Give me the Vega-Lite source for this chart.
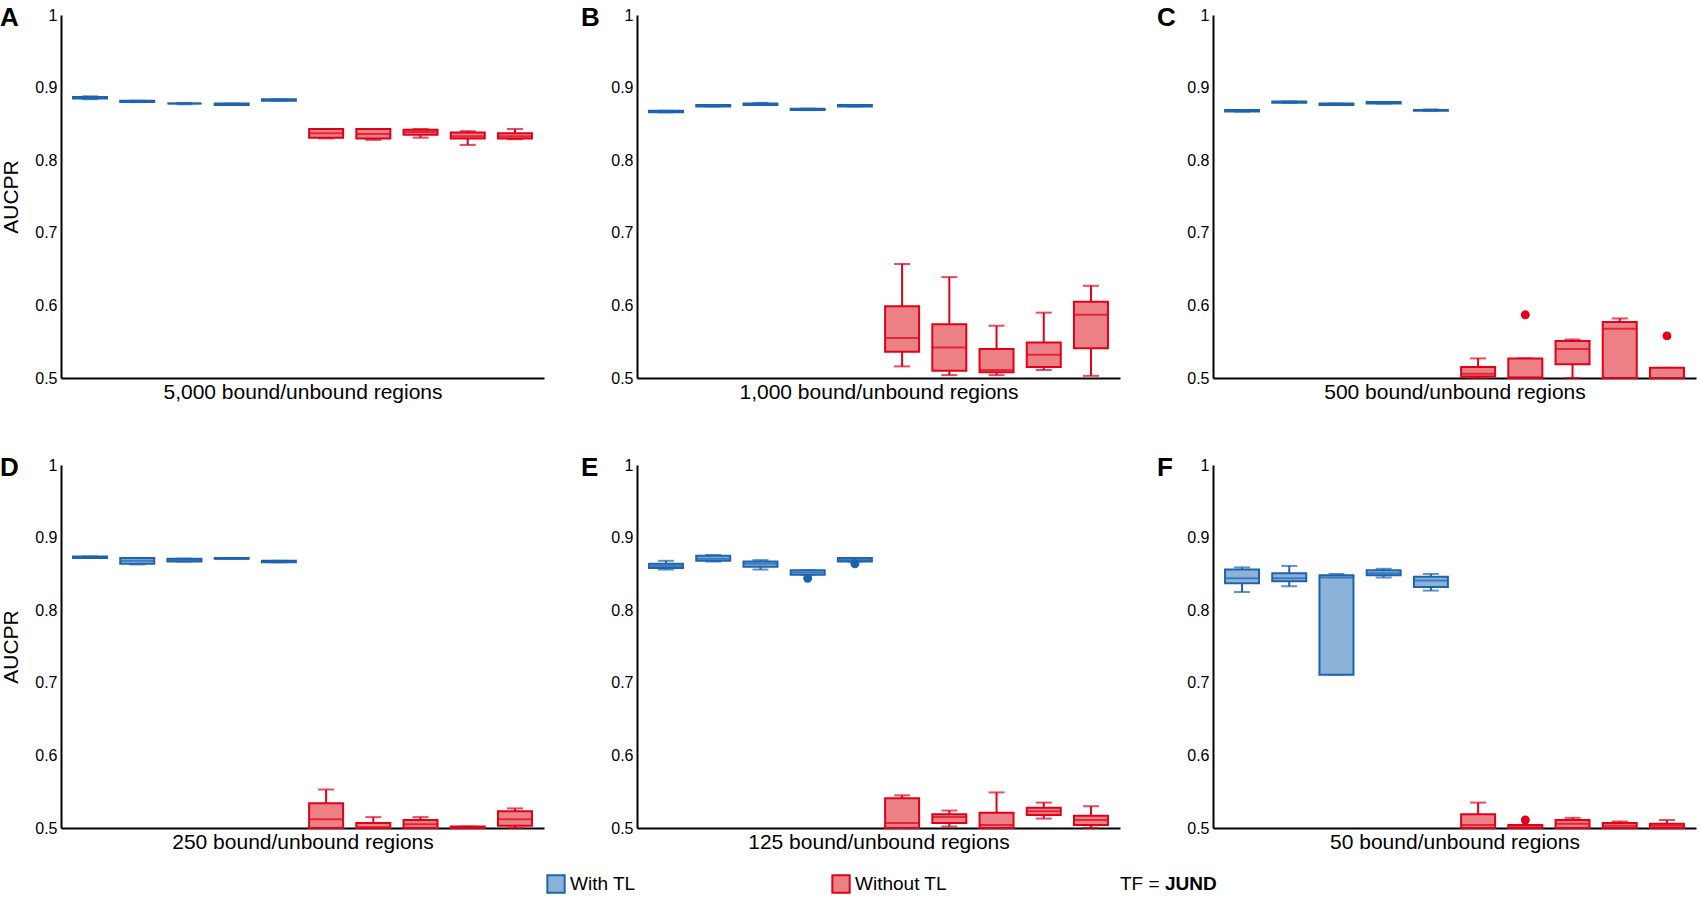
{
  "$schema": "https://vega.github.io/schema/vega-lite/v6.json",
  "background": "white",
  "padding": {"left": 0, "top": 5, "right": 0, "bottom": 0},
  "datasets": {
    "boxes": [
      {"panel": "A", "box": 1, "group": "With TL", "lower": 0.884, "q1": 0.885, "median": 0.886, "q3": 0.887, "upper": 0.888},
      {"panel": "A", "box": 2, "group": "With TL", "lower": 0.880, "q1": 0.880, "median": 0.881, "q3": 0.882, "upper": 0.882},
      {"panel": "A", "box": 3, "group": "With TL", "lower": 0.877, "q1": 0.878, "median": 0.878, "q3": 0.878, "upper": 0.879},
      {"panel": "A", "box": 4, "group": "With TL", "lower": 0.876, "q1": 0.876, "median": 0.877, "q3": 0.878, "upper": 0.878},
      {"panel": "A", "box": 5, "group": "With TL", "lower": 0.882, "q1": 0.882, "median": 0.883, "q3": 0.884, "upper": 0.884},
      {"panel": "A", "box": 6, "group": "Without TL", "lower": 0.830, "q1": 0.831, "median": 0.837, "q3": 0.843, "upper": 0.843},
      {"panel": "A", "box": 7, "group": "Without TL", "lower": 0.828, "q1": 0.830, "median": 0.836, "q3": 0.843, "upper": 0.843},
      {"panel": "A", "box": 8, "group": "Without TL", "lower": 0.831, "q1": 0.835, "median": 0.839, "q3": 0.842, "upper": 0.843},
      {"panel": "A", "box": 9, "group": "Without TL", "lower": 0.821, "q1": 0.830, "median": 0.833, "q3": 0.838, "upper": 0.840},
      {"panel": "A", "box": 10, "group": "Without TL", "lower": 0.829, "q1": 0.830, "median": 0.833, "q3": 0.837, "upper": 0.843},
      {"panel": "B", "box": 1, "group": "With TL", "lower": 0.866, "q1": 0.866, "median": 0.867, "q3": 0.868, "upper": 0.868},
      {"panel": "B", "box": 2, "group": "With TL", "lower": 0.874, "q1": 0.874, "median": 0.875, "q3": 0.876, "upper": 0.876},
      {"panel": "B", "box": 3, "group": "With TL", "lower": 0.876, "q1": 0.876, "median": 0.877, "q3": 0.878, "upper": 0.879},
      {"panel": "B", "box": 4, "group": "With TL", "lower": 0.869, "q1": 0.869, "median": 0.870, "q3": 0.871, "upper": 0.871},
      {"panel": "B", "box": 5, "group": "With TL", "lower": 0.874, "q1": 0.874, "median": 0.875, "q3": 0.876, "upper": 0.876},
      {"panel": "B", "box": 6, "group": "Without TL", "lower": 0.516, "q1": 0.536, "median": 0.555, "q3": 0.599, "upper": 0.657},
      {"panel": "B", "box": 7, "group": "Without TL", "lower": 0.504, "q1": 0.510, "median": 0.542, "q3": 0.574, "upper": 0.639},
      {"panel": "B", "box": 8, "group": "Without TL", "lower": 0.504, "q1": 0.508, "median": 0.511, "q3": 0.540, "upper": 0.572},
      {"panel": "B", "box": 9, "group": "Without TL", "lower": 0.511, "q1": 0.515, "median": 0.532, "q3": 0.549, "upper": 0.590},
      {"panel": "B", "box": 10, "group": "Without TL", "lower": 0.503, "q1": 0.541, "median": 0.587, "q3": 0.605, "upper": 0.627},
      {"panel": "C", "box": 1, "group": "With TL", "lower": 0.867, "q1": 0.867, "median": 0.868, "q3": 0.869, "upper": 0.869},
      {"panel": "C", "box": 2, "group": "With TL", "lower": 0.879, "q1": 0.879, "median": 0.880, "q3": 0.881, "upper": 0.881},
      {"panel": "C", "box": 3, "group": "With TL", "lower": 0.876, "q1": 0.876, "median": 0.877, "q3": 0.878, "upper": 0.878},
      {"panel": "C", "box": 4, "group": "With TL", "lower": 0.878, "q1": 0.878, "median": 0.879, "q3": 0.880, "upper": 0.880},
      {"panel": "C", "box": 5, "group": "With TL", "lower": 0.868, "q1": 0.868, "median": 0.869, "q3": 0.869, "upper": 0.870},
      {"panel": "C", "box": 6, "group": "Without TL", "lower": 0.500, "q1": 0.502, "median": 0.506, "q3": 0.515, "upper": 0.527},
      {"panel": "C", "box": 7, "group": "Without TL", "lower": 0.500, "q1": 0.500, "median": 0.501, "q3": 0.527, "upper": 0.527},
      {"panel": "C", "box": 8, "group": "Without TL", "lower": 0.500, "q1": 0.519, "median": 0.540, "q3": 0.551, "upper": 0.553},
      {"panel": "C", "box": 9, "group": "Without TL", "lower": 0.500, "q1": 0.500, "median": 0.568, "q3": 0.577, "upper": 0.582},
      {"panel": "C", "box": 10, "group": "Without TL", "lower": 0.500, "q1": 0.500, "median": 0.500, "q3": 0.514, "upper": 0.514},
      {"panel": "D", "box": 1, "group": "With TL", "lower": 0.872, "q1": 0.872, "median": 0.873, "q3": 0.874, "upper": 0.874},
      {"panel": "D", "box": 2, "group": "With TL", "lower": 0.863, "q1": 0.864, "median": 0.868, "q3": 0.872, "upper": 0.872},
      {"panel": "D", "box": 3, "group": "With TL", "lower": 0.867, "q1": 0.867, "median": 0.869, "q3": 0.871, "upper": 0.871},
      {"panel": "D", "box": 4, "group": "With TL", "lower": 0.871, "q1": 0.871, "median": 0.871, "q3": 0.872, "upper": 0.872},
      {"panel": "D", "box": 5, "group": "With TL", "lower": 0.866, "q1": 0.866, "median": 0.867, "q3": 0.868, "upper": 0.868},
      {"panel": "D", "box": 6, "group": "Without TL", "lower": 0.500, "q1": 0.500, "median": 0.512, "q3": 0.534, "upper": 0.553},
      {"panel": "D", "box": 7, "group": "Without TL", "lower": 0.500, "q1": 0.500, "median": 0.501, "q3": 0.507, "upper": 0.515},
      {"panel": "D", "box": 8, "group": "Without TL", "lower": 0.500, "q1": 0.500, "median": 0.505, "q3": 0.511, "upper": 0.515},
      {"panel": "D", "box": 9, "group": "Without TL", "lower": 0.500, "q1": 0.500, "median": 0.501, "q3": 0.502, "upper": 0.502},
      {"panel": "D", "box": 10, "group": "Without TL", "lower": 0.500, "q1": 0.503, "median": 0.512, "q3": 0.523, "upper": 0.527},
      {"panel": "E", "box": 1, "group": "With TL", "lower": 0.856, "q1": 0.858, "median": 0.861, "q3": 0.864, "upper": 0.868},
      {"panel": "E", "box": 2, "group": "With TL", "lower": 0.867, "q1": 0.868, "median": 0.871, "q3": 0.875, "upper": 0.876},
      {"panel": "E", "box": 3, "group": "With TL", "lower": 0.856, "q1": 0.860, "median": 0.864, "q3": 0.867, "upper": 0.869},
      {"panel": "E", "box": 4, "group": "With TL", "lower": 0.849, "q1": 0.849, "median": 0.852, "q3": 0.855, "upper": 0.855},
      {"panel": "E", "box": 5, "group": "With TL", "lower": 0.867, "q1": 0.867, "median": 0.869, "q3": 0.872, "upper": 0.872},
      {"panel": "E", "box": 6, "group": "Without TL", "lower": 0.500, "q1": 0.500, "median": 0.507, "q3": 0.541, "upper": 0.545},
      {"panel": "E", "box": 7, "group": "Without TL", "lower": 0.502, "q1": 0.507, "median": 0.515, "q3": 0.519, "upper": 0.524},
      {"panel": "E", "box": 8, "group": "Without TL", "lower": 0.500, "q1": 0.500, "median": 0.504, "q3": 0.521, "upper": 0.549},
      {"panel": "E", "box": 9, "group": "Without TL", "lower": 0.513, "q1": 0.518, "median": 0.523, "q3": 0.528, "upper": 0.535},
      {"panel": "E", "box": 10, "group": "Without TL", "lower": 0.500, "q1": 0.504, "median": 0.511, "q3": 0.517, "upper": 0.530},
      {"panel": "F", "box": 1, "group": "With TL", "lower": 0.825, "q1": 0.837, "median": 0.844, "q3": 0.856, "upper": 0.859},
      {"panel": "F", "box": 2, "group": "With TL", "lower": 0.833, "q1": 0.840, "median": 0.844, "q3": 0.851, "upper": 0.861},
      {"panel": "F", "box": 3, "group": "With TL", "lower": 0.711, "q1": 0.711, "median": 0.845, "q3": 0.848, "upper": 0.850},
      {"panel": "F", "box": 4, "group": "With TL", "lower": 0.845, "q1": 0.848, "median": 0.851, "q3": 0.855, "upper": 0.857},
      {"panel": "F", "box": 5, "group": "With TL", "lower": 0.827, "q1": 0.832, "median": 0.841, "q3": 0.846, "upper": 0.850},
      {"panel": "F", "box": 6, "group": "Without TL", "lower": 0.500, "q1": 0.500, "median": 0.504, "q3": 0.519, "upper": 0.535},
      {"panel": "F", "box": 7, "group": "Without TL", "lower": 0.500, "q1": 0.500, "median": 0.501, "q3": 0.504, "upper": 0.504},
      {"panel": "F", "box": 8, "group": "Without TL", "lower": 0.500, "q1": 0.500, "median": 0.506, "q3": 0.511, "upper": 0.514},
      {"panel": "F", "box": 9, "group": "Without TL", "lower": 0.500, "q1": 0.500, "median": 0.503, "q3": 0.507, "upper": 0.509},
      {"panel": "F", "box": 10, "group": "Without TL", "lower": 0.500, "q1": 0.500, "median": 0.503, "q3": 0.506, "upper": 0.511}
    ],
    "outliers": [
      {"panel": "C", "box": 7, "group": "Without TL", "value": 0.587},
      {"panel": "C", "box": 10, "group": "Without TL", "value": 0.558},
      {"panel": "E", "box": 4, "group": "With TL", "value": 0.844},
      {"panel": "E", "box": 5, "group": "With TL", "value": 0.864},
      {"panel": "F", "box": 7, "group": "Without TL", "value": 0.511}
    ],
    "legend": [
      {"key": "With TL", "group": "With TL"},
      {"key": "Without TL", "group": "Without TL"}
    ]
  },
  "vconcat": [
    {
      "spacing": 53,
      "vconcat": [
        {
          "spacing": 37,
          "hconcat": [
            {
              "width": 483, "height": 363,
              "title": {"text": "A", "dx": -61},
              "encoding": {
                "x": {"field": "box", "type": "ordinal", "scale": {"domain": [1,2,3,4,5,6,7,8,9,10], "paddingInner": 0.28, "paddingOuter": 0.255}, "axis": {"title": "5,000 bound/unbound regions"}},
                "color": {"field": "group", "type": "nominal", "scale": {"domain": ["With TL", "Without TL"], "range": ["#1c64b0", "#e1001a"]}, "legend": null}
              },
              "layer": [
                {
                  "data": {"name": "boxes"},
                  "transform": [{"filter": "datum.panel === 'A'"}],
                  "layer": [
                    {"mark": {"type": "rule", "strokeWidth": 2}, "encoding": {"y": {"field": "lower", "type": "quantitative", "scale": {"domain": [0.5, 1], "nice": false, "zero": false}, "axis": {"title": "AUCPR", "values": [0.5, 0.6, 0.7, 0.8, 0.9, 1], "format": "~g"}}, "y2": {"field": "upper"}}},
                    {"mark": {"type": "tick", "size": 16, "thickness": 2}, "encoding": {"y": {"field": "lower", "type": "quantitative", "scale": {"domain": [0.5, 1], "nice": false, "zero": false}, "axis": {"title": "AUCPR", "values": [0.5, 0.6, 0.7, 0.8, 0.9, 1], "format": "~g"}}}},
                    {"mark": {"type": "tick", "size": 16, "thickness": 2}, "encoding": {"y": {"field": "upper", "type": "quantitative", "scale": {"domain": [0.5, 1], "nice": false, "zero": false}, "axis": {"title": "AUCPR", "values": [0.5, 0.6, 0.7, 0.8, 0.9, 1], "format": "~g"}}}},
                    {"mark": {"type": "bar", "width": {"band": 1}, "strokeWidth": 2}, "encoding": {"y": {"field": "q1", "type": "quantitative", "scale": {"domain": [0.5, 1], "nice": false, "zero": false}, "axis": {"title": "AUCPR", "values": [0.5, 0.6, 0.7, 0.8, 0.9, 1], "format": "~g"}}, "y2": {"field": "q3"}, "fill": {"field": "group", "type": "nominal", "scale": {"domain": ["With TL", "Without TL"], "range": ["#8db2d8", "#ec8185"]}, "legend": null}, "stroke": {"field": "group", "type": "nominal", "scale": {"domain": ["With TL", "Without TL"], "range": ["#1c64b0", "#e1001a"]}, "legend": null}}},
                    {"mark": {"type": "tick", "size": 34, "thickness": 2}, "encoding": {"y": {"field": "median", "type": "quantitative", "scale": {"domain": [0.5, 1], "nice": false, "zero": false}, "axis": {"title": "AUCPR", "values": [0.5, 0.6, 0.7, 0.8, 0.9, 1], "format": "~g"}}}}
                  ]
                },
                {"data": {"name": "outliers"}, "transform": [{"filter": "datum.panel === 'A'"}], "mark": {"type": "circle", "size": 80, "opacity": 1}, "encoding": {"y": {"field": "value", "type": "quantitative", "scale": {"domain": [0.5, 1], "nice": false, "zero": false}, "axis": {"title": "AUCPR", "values": [0.5, 0.6, 0.7, 0.8, 0.9, 1], "format": "~g"}}}}
              ]
            },
            {
              "width": 483, "height": 363,
              "title": {"text": "B", "dx": -56},
              "encoding": {
                "x": {"field": "box", "type": "ordinal", "scale": {"domain": [1,2,3,4,5,6,7,8,9,10], "paddingInner": 0.28, "paddingOuter": 0.255}, "axis": {"title": "1,000 bound/unbound regions"}},
                "color": {"field": "group", "type": "nominal", "scale": {"domain": ["With TL", "Without TL"], "range": ["#1c64b0", "#e1001a"]}, "legend": null}
              },
              "layer": [
                {
                  "data": {"name": "boxes"},
                  "transform": [{"filter": "datum.panel === 'B'"}],
                  "layer": [
                    {"mark": {"type": "rule", "strokeWidth": 2}, "encoding": {"y": {"field": "lower", "type": "quantitative", "scale": {"domain": [0.5, 1], "nice": false, "zero": false}, "axis": {"title": null, "values": [0.5, 0.6, 0.7, 0.8, 0.9, 1], "format": "~g"}}, "y2": {"field": "upper"}}},
                    {"mark": {"type": "tick", "size": 16, "thickness": 2}, "encoding": {"y": {"field": "lower", "type": "quantitative", "scale": {"domain": [0.5, 1], "nice": false, "zero": false}, "axis": {"title": null, "values": [0.5, 0.6, 0.7, 0.8, 0.9, 1], "format": "~g"}}}},
                    {"mark": {"type": "tick", "size": 16, "thickness": 2}, "encoding": {"y": {"field": "upper", "type": "quantitative", "scale": {"domain": [0.5, 1], "nice": false, "zero": false}, "axis": {"title": null, "values": [0.5, 0.6, 0.7, 0.8, 0.9, 1], "format": "~g"}}}},
                    {"mark": {"type": "bar", "width": {"band": 1}, "strokeWidth": 2}, "encoding": {"y": {"field": "q1", "type": "quantitative", "scale": {"domain": [0.5, 1], "nice": false, "zero": false}, "axis": {"title": null, "values": [0.5, 0.6, 0.7, 0.8, 0.9, 1], "format": "~g"}}, "y2": {"field": "q3"}, "fill": {"field": "group", "type": "nominal", "scale": {"domain": ["With TL", "Without TL"], "range": ["#8db2d8", "#ec8185"]}, "legend": null}, "stroke": {"field": "group", "type": "nominal", "scale": {"domain": ["With TL", "Without TL"], "range": ["#1c64b0", "#e1001a"]}, "legend": null}}},
                    {"mark": {"type": "tick", "size": 34, "thickness": 2}, "encoding": {"y": {"field": "median", "type": "quantitative", "scale": {"domain": [0.5, 1], "nice": false, "zero": false}, "axis": {"title": null, "values": [0.5, 0.6, 0.7, 0.8, 0.9, 1], "format": "~g"}}}}
                  ]
                },
                {"data": {"name": "outliers"}, "transform": [{"filter": "datum.panel === 'B'"}], "mark": {"type": "circle", "size": 80, "opacity": 1}, "encoding": {"y": {"field": "value", "type": "quantitative", "scale": {"domain": [0.5, 1], "nice": false, "zero": false}, "axis": {"title": null, "values": [0.5, 0.6, 0.7, 0.8, 0.9, 1], "format": "~g"}}}}
              ]
            },
            {
              "width": 483, "height": 363,
              "title": {"text": "C", "dx": -56},
              "encoding": {
                "x": {"field": "box", "type": "ordinal", "scale": {"domain": [1,2,3,4,5,6,7,8,9,10], "paddingInner": 0.28, "paddingOuter": 0.255}, "axis": {"title": "500 bound/unbound regions"}},
                "color": {"field": "group", "type": "nominal", "scale": {"domain": ["With TL", "Without TL"], "range": ["#1c64b0", "#e1001a"]}, "legend": null}
              },
              "layer": [
                {
                  "data": {"name": "boxes"},
                  "transform": [{"filter": "datum.panel === 'C'"}],
                  "layer": [
                    {"mark": {"type": "rule", "strokeWidth": 2}, "encoding": {"y": {"field": "lower", "type": "quantitative", "scale": {"domain": [0.5, 1], "nice": false, "zero": false}, "axis": {"title": null, "values": [0.5, 0.6, 0.7, 0.8, 0.9, 1], "format": "~g"}}, "y2": {"field": "upper"}}},
                    {"mark": {"type": "tick", "size": 16, "thickness": 2}, "encoding": {"y": {"field": "lower", "type": "quantitative", "scale": {"domain": [0.5, 1], "nice": false, "zero": false}, "axis": {"title": null, "values": [0.5, 0.6, 0.7, 0.8, 0.9, 1], "format": "~g"}}}},
                    {"mark": {"type": "tick", "size": 16, "thickness": 2}, "encoding": {"y": {"field": "upper", "type": "quantitative", "scale": {"domain": [0.5, 1], "nice": false, "zero": false}, "axis": {"title": null, "values": [0.5, 0.6, 0.7, 0.8, 0.9, 1], "format": "~g"}}}},
                    {"mark": {"type": "bar", "width": {"band": 1}, "strokeWidth": 2}, "encoding": {"y": {"field": "q1", "type": "quantitative", "scale": {"domain": [0.5, 1], "nice": false, "zero": false}, "axis": {"title": null, "values": [0.5, 0.6, 0.7, 0.8, 0.9, 1], "format": "~g"}}, "y2": {"field": "q3"}, "fill": {"field": "group", "type": "nominal", "scale": {"domain": ["With TL", "Without TL"], "range": ["#8db2d8", "#ec8185"]}, "legend": null}, "stroke": {"field": "group", "type": "nominal", "scale": {"domain": ["With TL", "Without TL"], "range": ["#1c64b0", "#e1001a"]}, "legend": null}}},
                    {"mark": {"type": "tick", "size": 34, "thickness": 2}, "encoding": {"y": {"field": "median", "type": "quantitative", "scale": {"domain": [0.5, 1], "nice": false, "zero": false}, "axis": {"title": null, "values": [0.5, 0.6, 0.7, 0.8, 0.9, 1], "format": "~g"}}}}
                  ]
                },
                {"data": {"name": "outliers"}, "transform": [{"filter": "datum.panel === 'C'"}], "mark": {"type": "circle", "size": 80, "opacity": 1}, "encoding": {"y": {"field": "value", "type": "quantitative", "scale": {"domain": [0.5, 1], "nice": false, "zero": false}, "axis": {"title": null, "values": [0.5, 0.6, 0.7, 0.8, 0.9, 1], "format": "~g"}}}}
              ]
            }
          ]
        },
        {
          "spacing": 37,
          "hconcat": [
            {
              "width": 483, "height": 363,
              "title": {"text": "D", "dx": -61},
              "encoding": {
                "x": {"field": "box", "type": "ordinal", "scale": {"domain": [1,2,3,4,5,6,7,8,9,10], "paddingInner": 0.28, "paddingOuter": 0.255}, "axis": {"title": "250 bound/unbound regions"}},
                "color": {"field": "group", "type": "nominal", "scale": {"domain": ["With TL", "Without TL"], "range": ["#1c64b0", "#e1001a"]}, "legend": null}
              },
              "layer": [
                {
                  "data": {"name": "boxes"},
                  "transform": [{"filter": "datum.panel === 'D'"}],
                  "layer": [
                    {"mark": {"type": "rule", "strokeWidth": 2}, "encoding": {"y": {"field": "lower", "type": "quantitative", "scale": {"domain": [0.5, 1], "nice": false, "zero": false}, "axis": {"title": "AUCPR", "values": [0.5, 0.6, 0.7, 0.8, 0.9, 1], "format": "~g"}}, "y2": {"field": "upper"}}},
                    {"mark": {"type": "tick", "size": 16, "thickness": 2}, "encoding": {"y": {"field": "lower", "type": "quantitative", "scale": {"domain": [0.5, 1], "nice": false, "zero": false}, "axis": {"title": "AUCPR", "values": [0.5, 0.6, 0.7, 0.8, 0.9, 1], "format": "~g"}}}},
                    {"mark": {"type": "tick", "size": 16, "thickness": 2}, "encoding": {"y": {"field": "upper", "type": "quantitative", "scale": {"domain": [0.5, 1], "nice": false, "zero": false}, "axis": {"title": "AUCPR", "values": [0.5, 0.6, 0.7, 0.8, 0.9, 1], "format": "~g"}}}},
                    {"mark": {"type": "bar", "width": {"band": 1}, "strokeWidth": 2}, "encoding": {"y": {"field": "q1", "type": "quantitative", "scale": {"domain": [0.5, 1], "nice": false, "zero": false}, "axis": {"title": "AUCPR", "values": [0.5, 0.6, 0.7, 0.8, 0.9, 1], "format": "~g"}}, "y2": {"field": "q3"}, "fill": {"field": "group", "type": "nominal", "scale": {"domain": ["With TL", "Without TL"], "range": ["#8db2d8", "#ec8185"]}, "legend": null}, "stroke": {"field": "group", "type": "nominal", "scale": {"domain": ["With TL", "Without TL"], "range": ["#1c64b0", "#e1001a"]}, "legend": null}}},
                    {"mark": {"type": "tick", "size": 34, "thickness": 2}, "encoding": {"y": {"field": "median", "type": "quantitative", "scale": {"domain": [0.5, 1], "nice": false, "zero": false}, "axis": {"title": "AUCPR", "values": [0.5, 0.6, 0.7, 0.8, 0.9, 1], "format": "~g"}}}}
                  ]
                },
                {"data": {"name": "outliers"}, "transform": [{"filter": "datum.panel === 'D'"}], "mark": {"type": "circle", "size": 80, "opacity": 1}, "encoding": {"y": {"field": "value", "type": "quantitative", "scale": {"domain": [0.5, 1], "nice": false, "zero": false}, "axis": {"title": "AUCPR", "values": [0.5, 0.6, 0.7, 0.8, 0.9, 1], "format": "~g"}}}}
              ]
            },
            {
              "width": 483, "height": 363,
              "title": {"text": "E", "dx": -56},
              "encoding": {
                "x": {"field": "box", "type": "ordinal", "scale": {"domain": [1,2,3,4,5,6,7,8,9,10], "paddingInner": 0.28, "paddingOuter": 0.255}, "axis": {"title": "125 bound/unbound regions"}},
                "color": {"field": "group", "type": "nominal", "scale": {"domain": ["With TL", "Without TL"], "range": ["#1c64b0", "#e1001a"]}, "legend": null}
              },
              "layer": [
                {
                  "data": {"name": "boxes"},
                  "transform": [{"filter": "datum.panel === 'E'"}],
                  "layer": [
                    {"mark": {"type": "rule", "strokeWidth": 2}, "encoding": {"y": {"field": "lower", "type": "quantitative", "scale": {"domain": [0.5, 1], "nice": false, "zero": false}, "axis": {"title": null, "values": [0.5, 0.6, 0.7, 0.8, 0.9, 1], "format": "~g"}}, "y2": {"field": "upper"}}},
                    {"mark": {"type": "tick", "size": 16, "thickness": 2}, "encoding": {"y": {"field": "lower", "type": "quantitative", "scale": {"domain": [0.5, 1], "nice": false, "zero": false}, "axis": {"title": null, "values": [0.5, 0.6, 0.7, 0.8, 0.9, 1], "format": "~g"}}}},
                    {"mark": {"type": "tick", "size": 16, "thickness": 2}, "encoding": {"y": {"field": "upper", "type": "quantitative", "scale": {"domain": [0.5, 1], "nice": false, "zero": false}, "axis": {"title": null, "values": [0.5, 0.6, 0.7, 0.8, 0.9, 1], "format": "~g"}}}},
                    {"mark": {"type": "bar", "width": {"band": 1}, "strokeWidth": 2}, "encoding": {"y": {"field": "q1", "type": "quantitative", "scale": {"domain": [0.5, 1], "nice": false, "zero": false}, "axis": {"title": null, "values": [0.5, 0.6, 0.7, 0.8, 0.9, 1], "format": "~g"}}, "y2": {"field": "q3"}, "fill": {"field": "group", "type": "nominal", "scale": {"domain": ["With TL", "Without TL"], "range": ["#8db2d8", "#ec8185"]}, "legend": null}, "stroke": {"field": "group", "type": "nominal", "scale": {"domain": ["With TL", "Without TL"], "range": ["#1c64b0", "#e1001a"]}, "legend": null}}},
                    {"mark": {"type": "tick", "size": 34, "thickness": 2}, "encoding": {"y": {"field": "median", "type": "quantitative", "scale": {"domain": [0.5, 1], "nice": false, "zero": false}, "axis": {"title": null, "values": [0.5, 0.6, 0.7, 0.8, 0.9, 1], "format": "~g"}}}}
                  ]
                },
                {"data": {"name": "outliers"}, "transform": [{"filter": "datum.panel === 'E'"}], "mark": {"type": "circle", "size": 80, "opacity": 1}, "encoding": {"y": {"field": "value", "type": "quantitative", "scale": {"domain": [0.5, 1], "nice": false, "zero": false}, "axis": {"title": null, "values": [0.5, 0.6, 0.7, 0.8, 0.9, 1], "format": "~g"}}}}
              ]
            },
            {
              "width": 483, "height": 363,
              "title": {"text": "F", "dx": -56},
              "encoding": {
                "x": {"field": "box", "type": "ordinal", "scale": {"domain": [1,2,3,4,5,6,7,8,9,10], "paddingInner": 0.28, "paddingOuter": 0.255}, "axis": {"title": "50 bound/unbound regions"}},
                "color": {"field": "group", "type": "nominal", "scale": {"domain": ["With TL", "Without TL"], "range": ["#1c64b0", "#e1001a"]}, "legend": null}
              },
              "layer": [
                {
                  "data": {"name": "boxes"},
                  "transform": [{"filter": "datum.panel === 'F'"}],
                  "layer": [
                    {"mark": {"type": "rule", "strokeWidth": 2}, "encoding": {"y": {"field": "lower", "type": "quantitative", "scale": {"domain": [0.5, 1], "nice": false, "zero": false}, "axis": {"title": null, "values": [0.5, 0.6, 0.7, 0.8, 0.9, 1], "format": "~g"}}, "y2": {"field": "upper"}}},
                    {"mark": {"type": "tick", "size": 16, "thickness": 2}, "encoding": {"y": {"field": "lower", "type": "quantitative", "scale": {"domain": [0.5, 1], "nice": false, "zero": false}, "axis": {"title": null, "values": [0.5, 0.6, 0.7, 0.8, 0.9, 1], "format": "~g"}}}},
                    {"mark": {"type": "tick", "size": 16, "thickness": 2}, "encoding": {"y": {"field": "upper", "type": "quantitative", "scale": {"domain": [0.5, 1], "nice": false, "zero": false}, "axis": {"title": null, "values": [0.5, 0.6, 0.7, 0.8, 0.9, 1], "format": "~g"}}}},
                    {"mark": {"type": "bar", "width": {"band": 1}, "strokeWidth": 2}, "encoding": {"y": {"field": "q1", "type": "quantitative", "scale": {"domain": [0.5, 1], "nice": false, "zero": false}, "axis": {"title": null, "values": [0.5, 0.6, 0.7, 0.8, 0.9, 1], "format": "~g"}}, "y2": {"field": "q3"}, "fill": {"field": "group", "type": "nominal", "scale": {"domain": ["With TL", "Without TL"], "range": ["#8db2d8", "#ec8185"]}, "legend": null}, "stroke": {"field": "group", "type": "nominal", "scale": {"domain": ["With TL", "Without TL"], "range": ["#1c64b0", "#e1001a"]}, "legend": null}}},
                    {"mark": {"type": "tick", "size": 34, "thickness": 2}, "encoding": {"y": {"field": "median", "type": "quantitative", "scale": {"domain": [0.5, 1], "nice": false, "zero": false}, "axis": {"title": null, "values": [0.5, 0.6, 0.7, 0.8, 0.9, 1], "format": "~g"}}}}
                  ]
                },
                {"data": {"name": "outliers"}, "transform": [{"filter": "datum.panel === 'F'"}], "mark": {"type": "circle", "size": 80, "opacity": 1}, "encoding": {"y": {"field": "value", "type": "quantitative", "scale": {"domain": [0.5, 1], "nice": false, "zero": false}, "axis": {"title": null, "values": [0.5, 0.6, 0.7, 0.8, 0.9, 1], "format": "~g"}}}}
              ]
            }
          ]
        }
      ]
    },
    {
      "width": 1680, "height": 20,
      "data": {"name": "legend"},
      "encoding": {
        "x": {"field": "key", "type": "nominal", "scale": {"type": "point", "domain": ["With TL", "Without TL", "TF"], "range": [495, 1065], "padding": 0}, "axis": null}
      },
      "layer": [
        {"mark": {"type": "point", "shape": "square", "filled": true, "size": 300, "strokeWidth": 2, "opacity": 1},
         "encoding": {
           "fill": {"field": "group", "type": "nominal", "scale": {"domain": ["With TL", "Without TL"], "range": ["#8db2d8", "#ec8185"]}, "legend": null},
           "stroke": {"field": "group", "type": "nominal", "scale": {"domain": ["With TL", "Without TL"], "range": ["#1c64b0", "#e1001a"]}, "legend": null}
         }},
        {"mark": {"type": "text", "align": "left", "baseline": "middle", "dx": 14, "fontSize": 19, "color": "black"},
         "encoding": {"text": {"field": "key"}}},
        {"data": {"values": [{"key": "TF", "part": "TF = "}]},
         "mark": {"type": "text", "align": "left", "baseline": "middle", "dx": -6, "fontSize": 19, "color": "black"},
         "encoding": {"text": {"field": "part"}}},
        {"data": {"values": [{"key": "TF", "part": "JUND"}]},
         "mark": {"type": "text", "align": "left", "baseline": "middle", "dx": 39, "fontSize": 19, "fontWeight": "bold", "color": "black"},
         "encoding": {"text": {"field": "part"}}}
      ]
    }
  ],
  "spacing": 19,
  "config": {
    "font": "Liberation Sans",
    "view": {"stroke": null},
    "axisY": {"domainColor": "black", "domainWidth": 2, "ticks": false, "grid": false, "labelFontSize": 16, "labelColor": "black", "labelPadding": 4, "labelFlush": false, "titleFontSize": 21, "titleFontWeight": "normal", "titleColor": "black", "titlePadding": 13},
    "axisX": {"domainColor": "black", "domainWidth": 2, "ticks": false, "labels": false, "grid": false, "titleFontSize": 21, "titleFontWeight": "normal", "titleColor": "black", "titlePadding": 3},
    "title": {"fontSize": 26, "fontWeight": "bold", "color": "black", "anchor": "start", "frame": "group", "baseline": "top", "offset": 0, "dy": 28}
  }
}
